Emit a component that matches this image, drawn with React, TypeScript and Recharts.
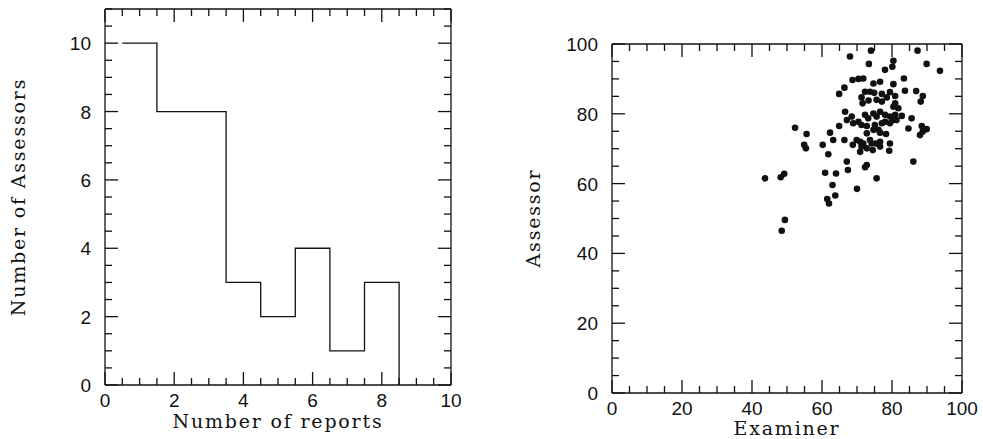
import { LineChart, Line, ScatterChart, Scatter, XAxis, YAxis } from 'recharts'

// left panel: histogram of reports per assessor
const reportCounts = [1, 2, 3, 4, 5, 6, 7, 8]
const assessorCounts = [10, 8, 8, 3, 2, 4, 1, 3]
const histXTicks = [0, 2, 4, 6, 8, 10]
const histYTicks = [0, 2, 4, 6, 8, 10]

// right panel: assessor vs examiner marks
const examinerMarks = [
  68.0, 74.0, 73.4, 68.7, 70.4, 71.8, 74.7, 66.4, 64.9, 72.3, 73.7, 74.9, 71.3, 73.3, 71.6, 75.6,
  87.3, 80.4, 80.1, 78.0, 89.9, 93.7, 83.4, 76.6, 80.4, 83.7, 86.9, 88.8, 88.2, 77.1, 79.4, 80.9,
  78.5, 77.1, 80.9, 80.4, 81.8,
  66.6, 68.5, 67.1, 68.9, 70.4, 72.3, 73.2, 74.7, 75.6, 71.3, 72.8, 75.1, 64.9, 55.6, 54.9, 55.4,
  62.3, 63.2, 60.2, 61.8, 66.4, 68.8, 69.9, 70.9, 71.8, 71.3, 72.8, 70.9, 73.7, 74.2, 75.4, 74.5,
  72.8, 74.7, 76.1, 67.1, 67.4, 72.8, 72.3, 60.9, 64.0, 75.6,
  76.6, 78.0, 79.4, 80.9, 82.8, 85.6, 78.0, 77.1, 80.4, 81.3, 79.4, 84.7, 88.5, 89.9, 88.8, 88.0,
  76.6, 78.3, 76.6, 76.6, 79.4, 79.2, 86.1,
  43.7, 48.2, 49.2, 63.0, 61.5, 62.0, 63.8, 49.4, 48.5, 52.3, 70.0,
]
const assessorMarks = [
  96.4, 98.1, 94.3, 89.7, 90.0, 90.1, 88.7, 87.5, 85.7, 86.3, 86.3, 86.0, 84.7, 83.8, 83.0, 84.0,
  98.1, 95.2, 93.5, 92.6, 94.3, 92.3, 90.1, 89.2, 88.5, 86.6, 86.5, 85.1, 83.5, 85.7, 86.2, 85.1,
  84.7, 83.5, 83.0, 82.0, 81.6,
  80.6, 79.2, 78.2, 77.3, 77.7, 79.7, 78.7, 80.1, 79.2, 76.8, 76.5, 76.8, 76.5, 74.2, 71.1, 70.1,
  74.6, 72.5, 71.1, 68.4, 72.5, 71.1, 72.5, 72.0, 71.5, 70.6, 70.1, 69.1, 72.5, 71.5, 71.5, 69.6,
  74.4, 75.4, 75.4, 66.3, 63.9, 65.3, 64.7, 63.1, 62.9, 61.5,
  80.6, 79.7, 79.2, 79.7, 79.4, 78.7, 77.7, 77.3, 78.2, 78.2, 77.3, 75.8, 76.5, 75.6, 74.9, 73.9,
  74.6, 74.2, 72.0, 70.6, 71.5, 69.4, 66.3,
  61.5, 61.8, 62.8, 59.6, 55.6, 54.3, 56.6, 49.6, 46.5, 76.0, 58.5,
]
const scatterTicks = [0, 20, 40, 60, 80, 100]

const histData = [
  ...reportCounts.map((n, i) => ({ edge: n - 0.5, count: assessorCounts[i] })),
  { edge: reportCounts[reportCounts.length - 1] + 0.5, count: 0 },
]
const scatterData = examinerMarks.map((x, i) => ({ x, y: assessorMarks[i] }))

const steps = (max: number, step: number) => {
  const out: number[] = []
  for (let v = 0; v <= max + 1e-9; v += step) out.push(+v.toFixed(3))
  return out
}

const INK = '#111'
const tickFont = { fontFamily: '"Liberation Sans", Arial, sans-serif', fontSize: 19 }
const titleFont: React.CSSProperties = {
  fontFamily: '"DejaVu Serif", serif',
  fontSize: 19,
  lineHeight: '20px',
  letterSpacing: 1.8,
  color: INK,
  whiteSpace: 'nowrap',
  position: 'absolute',
}

type Side = 'bottom' | 'top' | 'left' | 'right'

// inward ticks, long on majors, with labels only on the bottom/left axes
const makeTick = (side: Side, majors: number[]) => (props: any) => {
  const { x, y, payload } = props
  const major = majors.includes(payload.value)
  const len = major ? 13 : 7
  let line
  if (side === 'bottom') line = <line x1={x} y1={y} x2={x} y2={y - len} />
  else if (side === 'top') line = <line x1={x} y1={y} x2={x} y2={y + len} />
  else if (side === 'left') line = <line x1={x} y1={y} x2={x + len} y2={y} />
  else line = <line x1={x} y1={y} x2={x - len} y2={y} />
  return (
    <g stroke={INK} strokeWidth={1.3}>
      {line}
      {major && side === 'bottom' && (
        <text x={x} y={y + 22} textAnchor="middle" fill={INK} stroke="none" {...tickFont}>
          {payload.value}
        </text>
      )}
      {major && side === 'left' && (
        <text x={x - 14} y={y + 7} textAnchor="end" fill={INK} stroke="none" {...tickFont}>
          {payload.value}
        </text>
      )}
    </g>
  )
}

const axisLine = { stroke: INK, strokeWidth: 1.3 }

function Histogram() {
  const xt = steps(10, 0.5)
  const yt = steps(11, 0.5)
  return (
    <LineChart width={470} height={439} data={histData} margin={{ top: 8, left: 104, right: 18, bottom: 53 }}>
      <XAxis xAxisId="b" dataKey="edge" type="number" domain={[0, 10]} ticks={xt} interval={0}
        tickSize={0} tickMargin={0} height={1} axisLine={axisLine} tick={makeTick('bottom', histXTicks)} />
      <XAxis xAxisId="t" orientation="top" dataKey="edge" type="number" domain={[0, 10]} ticks={xt} interval={0}
        tickSize={0} tickMargin={0} height={1} axisLine={axisLine} tick={makeTick('top', histXTicks)} />
      <YAxis yAxisId="l" type="number" domain={[0, 11]} ticks={yt} interval={0}
        tickSize={0} tickMargin={0} width={1} axisLine={axisLine} tick={makeTick('left', histYTicks)} />
      <YAxis yAxisId="r" orientation="right" type="number" domain={[0, 11]} ticks={yt} interval={0}
        tickSize={0} tickMargin={0} width={1} axisLine={axisLine} tick={makeTick('right', histYTicks)} />
      <Line xAxisId="b" yAxisId="l" type="stepAfter" dataKey="count" stroke={INK} strokeWidth={1.3}
        dot={false} isAnimationActive={false} />
      <Line xAxisId="t" yAxisId="r" type="stepAfter" dataKey="count" stroke="none"
        dot={false} isAnimationActive={false} />
    </LineChart>
  )
}

function MarksScatter() {
  const t = steps(100, 5)
  return (
    <ScatterChart width={493} height={439} margin={{ top: 43, left: 121, right: 20, bottom: 45 }}>
      <XAxis xAxisId="b" dataKey="x" type="number" domain={[0, 100]} ticks={t} interval={0}
        tickSize={0} tickMargin={0} height={1} axisLine={axisLine} tick={makeTick('bottom', scatterTicks)} />
      <XAxis xAxisId="t" orientation="top" dataKey="x" type="number" domain={[0, 100]} ticks={t} interval={0}
        tickSize={0} tickMargin={0} height={1} axisLine={axisLine} tick={makeTick('top', scatterTicks)} />
      <YAxis yAxisId="l" dataKey="y" type="number" domain={[0, 100]} ticks={t} interval={0}
        tickSize={0} tickMargin={0} width={1} axisLine={axisLine} tick={makeTick('left', scatterTicks)} />
      <YAxis yAxisId="r" orientation="right" dataKey="y" type="number" domain={[0, 100]} ticks={t} interval={0}
        tickSize={0} tickMargin={0} width={1} axisLine={axisLine} tick={makeTick('right', scatterTicks)} />
      <Scatter xAxisId="b" yAxisId="l" data={scatterData} isAnimationActive={false}
        shape={(p: any) => <circle cx={p.cx} cy={p.cy} r={3.3} fill={INK} />} />
      <Scatter xAxisId="t" yAxisId="r" data={scatterData} isAnimationActive={false}
        shape={() => <g />} />
    </ScatterChart>
  )
}

export default function App() {
  return (
    <div style={{ position: 'absolute', left: 0, top: 0, width: 983, height: 439, background: '#fff' }}>
      <div style={{ position: 'absolute', left: 0, top: 0 }}>
        <Histogram />
      </div>
      <div style={{ position: 'absolute', left: 490, top: 0 }}>
        <MarksScatter />
      </div>
      <div style={{ ...titleFont, left: 278, top: 411, transform: 'translateX(-50%)' }}>Number of reports</div>
      <div style={{ ...titleFont, left: 787, top: 418, transform: 'translateX(-50%)' }}>Examiner</div>
      <div style={{ ...titleFont, left: 18, top: 197, transform: 'translate(-50%, -50%) rotate(-90deg)' }}>
        Number of Assessors
      </div>
      <div style={{ ...titleFont, left: 533, top: 218, transform: 'translate(-50%, -50%) rotate(-90deg)' }}>
        Assessor
      </div>
    </div>
  )
}
